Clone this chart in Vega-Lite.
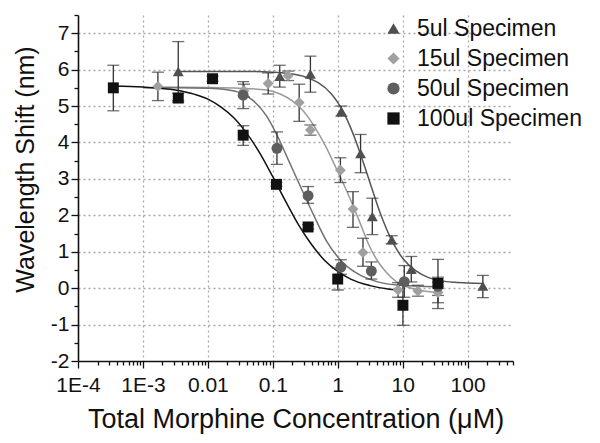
{
  "$schema": "https://vega.github.io/schema/vega-lite/v6.json",
  "width": 435,
  "height": 346,
  "autosize": "none",
  "padding": {"left": 78, "top": 15, "right": 87, "bottom": 82},
  "background": "white",
  "config": {"view": {"stroke": null}, "font": "Liberation Sans", "axis": {"labelOverlap": false, "labelBound": false, "labelFlush": false}},
  "datasets": {
    "points": [
      {"s": "5ul Specimen", "x": 0.0035, "y": 5.95, "lo": 5.15, "hi": 6.77},
      {"s": "5ul Specimen", "x": 0.128, "y": 5.82, "lo": 5.52, "hi": 6.12},
      {"s": "5ul Specimen", "x": 0.38, "y": 5.88, "lo": 5.38, "hi": 6.37},
      {"s": "5ul Specimen", "x": 1.14, "y": 4.86, "lo": 4.72, "hi": 5.0},
      {"s": "5ul Specimen", "x": 2.25, "y": 3.7, "lo": 3.17, "hi": 4.22},
      {"s": "5ul Specimen", "x": 3.41, "y": 1.97, "lo": 1.47, "hi": 2.47},
      {"s": "5ul Specimen", "x": 6.8, "y": 1.33, "lo": 1.22, "hi": 1.44},
      {"s": "5ul Specimen", "x": 13.6, "y": 0.52, "lo": 0.17, "hi": 0.87},
      {"s": "5ul Specimen", "x": 172, "y": 0.06, "lo": -0.26, "hi": 0.35},
      {"s": "15ul Specimen", "x": 0.0017, "y": 5.54, "lo": 5.15, "hi": 5.93},
      {"s": "15ul Specimen", "x": 0.036, "y": 5.42, "lo": 5.25, "hi": 5.6},
      {"s": "15ul Specimen", "x": 0.085, "y": 5.62, "lo": 5.33, "hi": 5.91},
      {"s": "15ul Specimen", "x": 0.172, "y": 5.83, "lo": 5.7, "hi": 5.96},
      {"s": "15ul Specimen", "x": 0.255, "y": 5.1, "lo": 4.58, "hi": 5.6},
      {"s": "15ul Specimen", "x": 0.38, "y": 4.34, "lo": 4.2, "hi": 4.48},
      {"s": "15ul Specimen", "x": 1.1, "y": 3.24, "lo": 2.9, "hi": 3.58},
      {"s": "15ul Specimen", "x": 1.72, "y": 2.17, "lo": 1.67, "hi": 2.65},
      {"s": "15ul Specimen", "x": 2.45, "y": 0.98, "lo": 0.6, "hi": 1.37},
      {"s": "15ul Specimen", "x": 8.5, "y": -0.05, "lo": -0.25, "hi": 0.15},
      {"s": "15ul Specimen", "x": 17.2, "y": -0.08, "lo": -0.22, "hi": 0.08},
      {"s": "15ul Specimen", "x": 35, "y": -0.12, "lo": -0.4, "hi": 0.16},
      {"s": "50ul Specimen", "x": 0.035, "y": 5.3, "lo": 4.93, "hi": 5.67},
      {"s": "50ul Specimen", "x": 0.116, "y": 3.84, "lo": 3.4, "hi": 4.29},
      {"s": "50ul Specimen", "x": 0.35, "y": 2.54, "lo": 2.33, "hi": 2.79},
      {"s": "50ul Specimen", "x": 1.12, "y": 0.58, "lo": 0.38, "hi": 0.78},
      {"s": "50ul Specimen", "x": 3.3, "y": 0.47, "lo": 0.25, "hi": 0.72},
      {"s": "50ul Specimen", "x": 10.6, "y": 0.18, "lo": -0.25, "hi": 0.62},
      {"s": "50ul Specimen", "x": 35, "y": 0.05, "lo": -0.2, "hi": 0.3},
      {"s": "100ul Specimen", "x": 0.00035, "y": 5.5, "lo": 4.87, "hi": 6.12},
      {"s": "100ul Specimen", "x": 0.0035, "y": 5.22, "lo": 5.1, "hi": 5.35},
      {"s": "100ul Specimen", "x": 0.0118, "y": 5.75, "lo": 5.68, "hi": 5.82},
      {"s": "100ul Specimen", "x": 0.035, "y": 4.2, "lo": 3.92, "hi": 4.46},
      {"s": "100ul Specimen", "x": 0.114, "y": 2.85, "lo": 2.8, "hi": 2.9},
      {"s": "100ul Specimen", "x": 0.35, "y": 1.68, "lo": 1.62, "hi": 1.74},
      {"s": "100ul Specimen", "x": 1.0, "y": 0.25, "lo": -0.05, "hi": 0.55},
      {"s": "100ul Specimen", "x": 10.1, "y": -0.47, "lo": -1.02, "hi": 0.08},
      {"s": "100ul Specimen", "x": 35, "y": 0.13, "lo": -0.56, "hi": 0.79}
    ],
    "curves": [
      {"s": "5ul", "x": 0.00347, "y": 5.95}, {"s": "5ul", "x": 0.0316, "y": 5.95},
      {"s": "5ul", "x": 0.1, "y": 5.93}, {"s": "5ul", "x": 0.2, "y": 5.88},
      {"s": "5ul", "x": 0.316, "y": 5.8}, {"s": "5ul", "x": 0.501, "y": 5.64},
      {"s": "5ul", "x": 0.794, "y": 5.34}, {"s": "5ul", "x": 1.0, "y": 5.1},
      {"s": "5ul", "x": 1.259, "y": 4.79}, {"s": "5ul", "x": 1.585, "y": 4.4},
      {"s": "5ul", "x": 1.995, "y": 3.94}, {"s": "5ul", "x": 2.512, "y": 3.42},
      {"s": "5ul", "x": 3.162, "y": 2.88}, {"s": "5ul", "x": 3.981, "y": 2.34},
      {"s": "5ul", "x": 5.012, "y": 1.85}, {"s": "5ul", "x": 6.31, "y": 1.43},
      {"s": "5ul", "x": 7.943, "y": 1.09}, {"s": "5ul", "x": 10, "y": 0.82},
      {"s": "5ul", "x": 15.85, "y": 0.48}, {"s": "5ul", "x": 25.12, "y": 0.29},
      {"s": "5ul", "x": 39.81, "y": 0.2}, {"s": "5ul", "x": 63.1, "y": 0.16},
      {"s": "5ul", "x": 100, "y": 0.14}, {"s": "5ul", "x": 173, "y": 0.13},
      {"s": "15ul", "x": 0.0017, "y": 5.52}, {"s": "15ul", "x": 0.01, "y": 5.51},
      {"s": "15ul", "x": 0.03, "y": 5.49}, {"s": "15ul", "x": 0.08, "y": 5.44},
      {"s": "15ul", "x": 0.13, "y": 5.33}, {"s": "15ul", "x": 0.2, "y": 5.14},
      {"s": "15ul", "x": 0.3, "y": 4.85}, {"s": "15ul", "x": 0.45, "y": 4.4},
      {"s": "15ul", "x": 0.65, "y": 3.9}, {"s": "15ul", "x": 0.9, "y": 3.38},
      {"s": "15ul", "x": 1.2, "y": 2.9}, {"s": "15ul", "x": 1.6, "y": 2.4},
      {"s": "15ul", "x": 2.2, "y": 1.8}, {"s": "15ul", "x": 3.0, "y": 1.2},
      {"s": "15ul", "x": 4.0, "y": 0.78}, {"s": "15ul", "x": 5.5, "y": 0.45},
      {"s": "15ul", "x": 8.0, "y": 0.18}, {"s": "15ul", "x": 12, "y": 0.03},
      {"s": "15ul", "x": 20, "y": -0.07}, {"s": "15ul", "x": 37, "y": -0.12},
      {"s": "50ul", "x": 0.001, "y": 5.5}, {"s": "50ul", "x": 0.0035, "y": 5.5},
      {"s": "50ul", "x": 0.01, "y": 5.49}, {"s": "50ul", "x": 0.02, "y": 5.45},
      {"s": "50ul", "x": 0.031, "y": 5.37}, {"s": "50ul", "x": 0.05, "y": 5.15},
      {"s": "50ul", "x": 0.08, "y": 4.73}, {"s": "50ul", "x": 0.12, "y": 4.15},
      {"s": "50ul", "x": 0.18, "y": 3.46}, {"s": "50ul", "x": 0.25, "y": 2.9},
      {"s": "50ul", "x": 0.42, "y": 2.03}, {"s": "50ul", "x": 0.67, "y": 1.3},
      {"s": "50ul", "x": 1.08, "y": 0.79}, {"s": "50ul", "x": 1.96, "y": 0.41},
      {"s": "50ul", "x": 4.0, "y": 0.18}, {"s": "50ul", "x": 8.1, "y": 0.09},
      {"s": "50ul", "x": 35, "y": 0.04},
      {"s": "100ul", "x": 0.00035, "y": 5.55}, {"s": "100ul", "x": 0.001, "y": 5.52},
      {"s": "100ul", "x": 0.00316, "y": 5.44}, {"s": "100ul", "x": 0.0063, "y": 5.32},
      {"s": "100ul", "x": 0.01, "y": 5.19}, {"s": "100ul", "x": 0.0158, "y": 4.98},
      {"s": "100ul", "x": 0.0251, "y": 4.68}, {"s": "100ul", "x": 0.0398, "y": 4.25},
      {"s": "100ul", "x": 0.0631, "y": 3.71}, {"s": "100ul", "x": 0.1, "y": 3.06},
      {"s": "100ul", "x": 0.158, "y": 2.38}, {"s": "100ul", "x": 0.251, "y": 1.73},
      {"s": "100ul", "x": 0.398, "y": 1.19}, {"s": "100ul", "x": 0.631, "y": 0.76},
      {"s": "100ul", "x": 1.0, "y": 0.46}, {"s": "100ul", "x": 1.585, "y": 0.25},
      {"s": "100ul", "x": 3.162, "y": 0.07}, {"s": "100ul", "x": 6.31, "y": -0.03},
      {"s": "100ul", "x": 10, "y": -0.06}
    ]
  },
  "encoding": {
    "x": {
      "field": "x", "type": "quantitative",
      "scale": {"type": "log", "domain": [0.0001, 501], "nice": false},
      "axis": {
        "title": "Total Morphine Concentration (μM)",
        "titleFontSize": 27, "titleFontWeight": "normal", "titleColor": "#111",
        "titlePadding": 11,
        "values": [0.0001,0.0002,0.0003,0.0004,0.0005,0.0006,0.0007,0.0008,0.0009,0.001,0.002,0.003,0.004,0.005,0.006,0.007,0.008,0.009,0.01,0.02,0.03,0.04,0.05,0.06,0.07,0.08,0.09,0.1,0.2,0.3,0.4,0.5,0.6,0.7,0.8,0.9,1,2,3,4,5,6,7,8,9,10,20,30,40,50,60,70,80,90,100,200,300,400,500],
        "labelExpr": "datum.value==0.0001?'1E-4':datum.value==0.001?'1E-3':datum.value==0.01?'0.01':datum.value==0.1?'0.1':datum.value==1?'1':datum.value==10?'10':datum.value==100?'100':''",
        "labelOverlap": false,
        "labelFontSize": 21, "labelColor": "#111", "labelPadding": 6,
        "tickSize": {"condition": {"test": "indexof([0.0001,0.001,0.01,0.1,1,10,100], datum.value) >= 0", "value": 7}, "value": 4},
        "tickColor": "#111", "tickWidth": 1.3,
        "domainColor": "#111", "domainWidth": 1.6,
        "grid": true,
        "gridOpacity": {"condition": {"test": "indexof([0.001,0.01,0.1,1,10,100], datum.value) >= 0", "value": 1}, "value": 0},
        "gridColor": "#a8a8a8", "gridDash": [2, 3], "gridWidth": 1.3
      }
    },
    "y": {
      "field": "y", "type": "quantitative",
      "scale": {"domain": [-2, 7.5], "nice": false, "zero": false},
      "axis": {
        "title": "Wavelength Shift (nm)",
        "titleFontSize": 25, "titleFontWeight": "normal", "titleColor": "#111",
        "titlePadding": 12, "titleY": 154,
        "values": [-2,-1.5,-1,-0.5,0,0.5,1,1.5,2,2.5,3,3.5,4,4.5,5,5.5,6,6.5,7,7.5],
        "labelExpr": "(datum.value == -2) ? '-2' : (datum.value == -1) ? '-1' : (datum.value == 0) ? '0' : (datum.value == 1) ? '1' : (datum.value == 2) ? '2' : (datum.value == 3) ? '3' : (datum.value == 4) ? '4' : (datum.value == 5) ? '5' : (datum.value == 6) ? '6' : (datum.value == 7) ? '7' : ''",
        "labelOverlap": false,
        "labelFontSize": 21, "labelColor": "#111", "labelPadding": 2,
        "tickSize": {"condition": {"test": "datum.value % 1 == 0", "value": 7}, "value": 4},
        "tickColor": "#111", "tickWidth": 1.3,
        "domainColor": "#111", "domainWidth": 1.6,
        "grid": true,
        "gridOpacity": {"condition": {"test": "datum.value % 1 == 0 && datum.value > -2", "value": 1}, "value": 0},
        "gridColor": "#a8a8a8", "gridDash": [2, 3], "gridWidth": 1.3
      }
    }
  },
  "layer": [
    {
      "data": {"name": "curves"},
      "mark": {"type": "line", "strokeWidth": 1.5, "interpolate": "monotone"},
      "encoding": {
        "stroke": {
          "field": "s", "type": "nominal",
          "scale": {"domain": ["5ul", "15ul", "50ul", "100ul"], "range": ["#555555", "#9a9a9a", "#707070", "#111111"]},
          "legend": null
        }
      }
    },
    {
      "data": {"name": "points"},
      "mark": {"type": "rule", "color": "#333333", "strokeWidth": 1.3},
      "encoding": {
        "y": {"field": "lo", "type": "quantitative"},
        "y2": {"field": "hi"}
      }
    },
    {
      "data": {"name": "points"},
      "mark": {"type": "tick", "color": "#333333", "thickness": 1.3, "size": 12, "orient": "horizontal"},
      "encoding": {
        "y": {"field": "lo", "type": "quantitative"}
      }
    },
    {
      "data": {"name": "points"},
      "mark": {"type": "tick", "color": "#333333", "thickness": 1.3, "size": 12, "orient": "horizontal"},
      "encoding": {
        "y": {"field": "hi", "type": "quantitative"}
      }
    },
    {
      "data": {"name": "points"},
      "mark": {"type": "point", "filled": true, "opacity": 1, "size": 120},
      "encoding": {
        "color": {
          "field": "s", "type": "nominal",
          "scale": {"domain": ["5ul Specimen", "15ul Specimen", "50ul Specimen", "100ul Specimen"], "range": ["#4f4f4f", "#a0a0a0", "#5e5e5e", "#111111"]},
          "legend": {
            "title": null, "orient": "none", "legendX": 304, "legendY": 2,
            "labelFontSize": 23, "labelColor": "#111", "labelOffset": 12, "labelLimit": 400,
            "symbolSize": 150, "rowPadding": 6, "padding": 0, "symbolStrokeWidth": 0
          }
        },
        "shape": {
          "field": "s", "type": "nominal",
          "scale": {"domain": ["5ul Specimen", "15ul Specimen", "50ul Specimen", "100ul Specimen"], "range": ["triangle-up", "diamond", "circle", "square"]},
          "legend": {
            "title": null, "orient": "none", "legendX": 304, "legendY": 2,
            "labelFontSize": 23, "labelColor": "#111", "labelOffset": 12, "labelLimit": 400,
            "symbolSize": 150, "rowPadding": 6, "padding": 0, "symbolStrokeWidth": 0
          }
        }
      }
    }
  ]
}
